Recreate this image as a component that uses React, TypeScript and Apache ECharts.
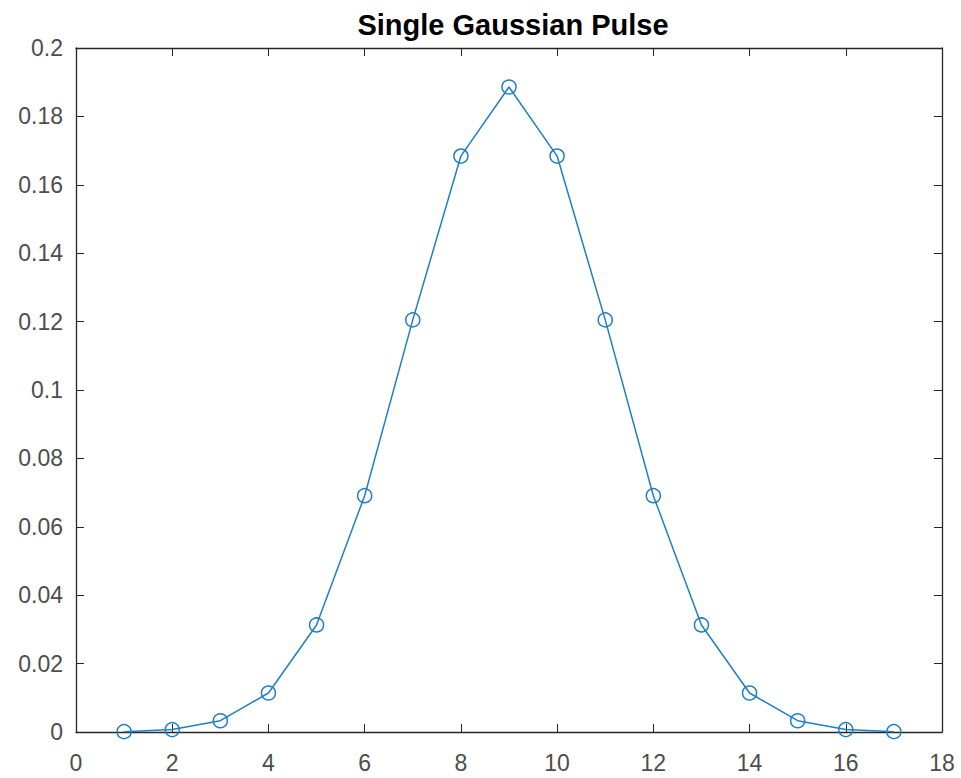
import React, { useEffect, useRef } from "react";
import * as echarts from "echarts";

const xValues = [1, 2, 3, 4, 5, 6, 7, 8, 9, 10, 11, 12, 13, 14, 15, 16, 17];
const yValues = [0.0001, 0.0007, 0.0033, 0.0114, 0.0313, 0.0691, 0.1205, 0.1684, 0.1886, 0.1684, 0.1205, 0.0691, 0.0313, 0.0114, 0.0033, 0.0007, 0.0001];
const titleText = "Single Gaussian Pulse";

const LINE = "#1f7fc6";
const AXIS = "#262626";
const LABEL = "#4d4d4d";
const FONT = "'Liberation Sans', Arial, Helvetica, sans-serif";

export default function App() {
  const ref = useRef<HTMLDivElement>(null);
  useEffect(() => {
    const chart = echarts.init(ref.current!, undefined, { renderer: "svg" });
    const fmt = (v: number) => String(+v.toFixed(2));
    const tick = { show: true, inside: true, length: 8, lineStyle: { color: AXIS, width: 1 } };
    chart.setOption({
      animation: false,
      backgroundColor: "#ffffff",
      title: {
        text: titleText,
        left: 508,
        textAlign: "center",
        top: 5,
        textStyle: { fontFamily: FONT, fontSize: 29, fontWeight: "bold", color: "#000" },
      },
      grid: { left: 76, top: 48, right: 19, bottom: 46, containLabel: false },
      xAxis: [
        {
          type: "value", min: 0, max: 18, interval: 2,
          axisLine: { show: true, onZero: false, lineStyle: { color: AXIS, width: 1.3 } },
          axisTick: tick,
          splitLine: { show: false },
          axisLabel: { color: LABEL, fontFamily: FONT, fontSize: 23, margin: 19 },
        },
        {
          type: "value", position: "top", min: 0, max: 18, interval: 2,
          axisLine: { show: true, onZero: false, lineStyle: { color: AXIS, width: 1.3 } },
          axisTick: tick, splitLine: { show: false }, axisLabel: { show: false },
        },
      ],
      yAxis: [
        {
          type: "value", min: 0, max: 0.2, interval: 0.02,
          axisLine: { show: true, onZero: false, lineStyle: { color: AXIS, width: 1.3 } },
          axisTick: tick,
          splitLine: { show: false },
          axisLabel: { color: LABEL, fontFamily: FONT, fontSize: 23, margin: 13, padding: [5, 0, 0, 0], formatter: fmt },
        },
        {
          type: "value", position: "right", min: 0, max: 0.2, interval: 0.02,
          axisLine: { show: true, onZero: false, lineStyle: { color: AXIS, width: 1.3 } },
          axisTick: tick, splitLine: { show: false }, axisLabel: { show: false },
        },
      ],
      series: [
        {
          type: "line",
          xAxisIndex: 0, yAxisIndex: 0,
          data: xValues.map((x, i) => [x, yValues[i]]),
          symbol: "circle",
          symbolSize: 14,
          lineStyle: { color: LINE, width: 1.5 },
          itemStyle: { color: "transparent", borderColor: LINE, borderWidth: 1.5 },
          clip: false,
        },
      ],
    });
    return () => chart.dispose();
  }, []);
  return <div ref={ref} style={{ position: "fixed", left: 0, top: 0, width: 961, height: 778 }} />;
}
